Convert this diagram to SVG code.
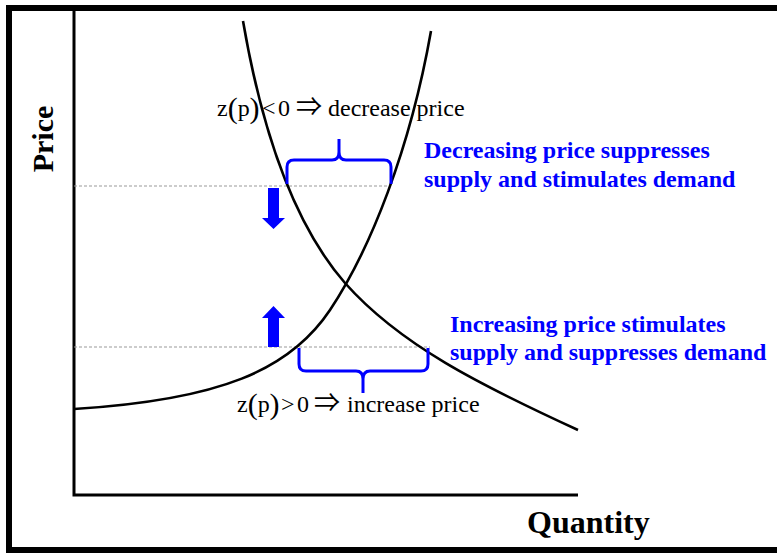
<svg xmlns="http://www.w3.org/2000/svg" width="777" height="554" viewBox="0 0 777 554">
<style>
.curve{fill:none;stroke:#000;stroke-width:2.6}
.dash{fill:none;stroke:#999;stroke-width:1;stroke-dasharray:3 2}
.brace{fill:none;stroke:#0000ff;stroke-width:3;stroke-linejoin:round}
.arrow{fill:#0000ff}
.lbl{font-family:"Liberation Serif","Times New Roman",serif;font-size:24px;fill:#000}
.par{font-size:30px}
.sym{font-family:"Noto Sans CJK JP","DejaVu Sans",sans-serif;font-size:26px}
.blue{font-family:"Liberation Serif","Times New Roman",serif;font-size:24px;font-weight:bold;fill:#0000ff}
.axis{font-family:"Liberation Serif","Times New Roman",serif;font-weight:bold;fill:#000}
</style>
<rect width="777" height="554" fill="#fff"/>
<g id="frame">
<path d="M790 8 H9 V550 H790" fill="none" stroke="#000" stroke-width="6"/>
</g>
<g id="axes">
<path d="M74 11 V495 H578" fill="none" stroke="#000" stroke-width="3"/>
<text class="axis" font-size="30" transform="translate(53 139) rotate(-90)" text-anchor="middle">Price</text>
<text class="axis" font-size="32" x="527" y="533">Quantity</text>
</g>
<g id="connectors">
<path class="dash" d="M74 186 H390"/>
<path class="dash" d="M74 347 H430"/>
</g>
<g id="supply">
<path class="curve" d="M74 409 C220 400 290 370 330 310 C370 250 410 150 431 31"/>
</g>
<g id="demand">
<path class="curve" d="M243 21 C260 120 290 220 345 283 C400 345 480 385 578 430"/>
</g>
<g id="brace-top">
<path class="brace" d="M287 184 V167 Q287 160 294 160 H332 Q339 160 339 152 V139 M339 152 Q339 160 346 160 H384 Q391 160 391 167 V184"/>
</g>
<g id="brace-bottom">
<path class="brace" d="M299 348 V364 Q299 371 306 371 H356 Q363 371 363 379 V393 M363 379 Q363 371 370 371 H421 Q428 371 428 364 V348"/>
</g>
<g id="arrow-down">
<polygon class="arrow" points="268,188 279,188 279,218 285,218 273.5,229 262,218 268,218"/>
</g>
<g id="arrow-up">
<polygon class="arrow" points="268,347 279,347 279,318 285,318 273.5,306 262,318 268,318"/>
</g>
<g id="label-decrease">
<text class="lbl" y="116"><tspan x="217">z</tspan><tspan class="par" x="227.7" y="118">(</tspan><tspan x="237.7" y="116">p</tspan><tspan class="par" x="249.5" y="118">)</tspan><tspan x="262" y="116">&lt;</tspan><tspan x="278">0</tspan><tspan class="sym" x="296">⇒</tspan><tspan x="328">decrease price</tspan></text>
</g>
<g id="label-increase">
<text class="lbl" y="412"><tspan x="237">z</tspan><tspan class="par" x="247.7" y="414">(</tspan><tspan x="257.7" y="412">p</tspan><tspan class="par" x="269.5" y="414">)</tspan><tspan x="281" y="412">&gt;</tspan><tspan x="297">0</tspan><tspan class="sym" x="314">⇒</tspan><tspan x="347">increase price</tspan></text>
</g>
<g id="note-decrease">
<text class="blue" x="424" y="158">Decreasing price suppresses</text>
<text class="blue" x="424" y="187">supply and stimulates demand</text>
</g>
<g id="note-increase">
<text class="blue" x="450" y="332">Increasing price stimulates</text>
<text class="blue" x="450" y="360">supply and suppresses demand</text>
</g>
</svg>
